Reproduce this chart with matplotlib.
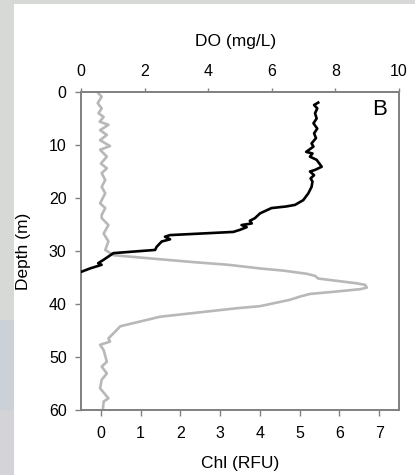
import matplotlib
matplotlib.use('Agg')
from matplotlib import pyplot as plt
from matplotlib.patches import Rectangle

plt.rcParams['font.family'] = ['Liberation Sans', 'DejaVu Sans']

# dissolved oxygen profile (black), DO in mg/L vs depth in m
do_depth = [2.0, 2.45, 3.1, 4.0, 5.0, 5.9, 6.9, 7.8, 8.7, 9.7, 10.3, 11.3, 11.6, 12.2,
            12.8, 14.1, 14.7, 15.0, 15.7, 16.3, 16.9, 17.9, 19.1, 20.4, 21.3, 21.6,
            21.9, 22.9, 23.8, 24.3, 24.8, 25.1, 25.5, 26.0, 26.4, 27.0, 27.3, 27.8,
            28.2, 29.2, 29.8, 30.4, 31.7, 32.3, 32.6, 33.3, 33.9]
do_vals = [7.46, 7.33, 7.43, 7.36, 7.41, 7.31, 7.43, 7.33, 7.39, 7.25, 7.31, 7.08, 7.28, 7.20,
           7.41, 7.57, 7.36, 7.20, 7.33, 7.22, 7.28, 7.25, 7.15, 6.99, 6.73, 6.45,
           5.99, 5.63, 5.47, 5.31, 5.37, 5.05, 5.21, 5.00, 4.79, 2.80, 2.64, 2.80,
           2.54, 2.38, 2.33, 1.02, 0.70, 0.54, 0.65, 0.28, 0.02]

# chlorophyll profile (grey), RFU vs depth in m
chl_depth = [0.25, 0.9, 2.1, 3.1, 4.0, 4.7, 5.6, 6.2, 7.2, 8.1, 9.1, 10.2, 10.9, 12.2,
             13.5, 14.4, 15.3, 16.6, 17.9, 19.1, 21.0, 21.9, 23.2, 23.8, 25.1, 26.7,
             28.2, 29.8, 30.8, 32.1, 32.6, 33.3, 33.7, 34.3, 34.7, 35.2, 36.1, 36.4,
             36.9, 37.2, 37.7, 38.1, 38.6, 39.2, 40.4, 40.8, 42.4, 44.2, 46.5, 47.1,
             47.7, 48.7, 50.9, 51.8, 53.1, 54.3, 55.9, 57.8, 58.4, 60.0]
chl_vals = [-0.06, 0.02, -0.08, 0.02, -0.06, 0.07, -0.03, 0.19, -0.02, 0.15, -0.02, 0.23,
            -0.02, 0.15, 0.00, 0.15, 0.02, 0.11, 0.02, 0.11, -0.02, 0.11, 0.02, 0.02,
            0.19, 0.07, 0.19, 0.11, 0.32, 2.33, 3.20, 4.01, 4.59, 5.18, 5.39, 5.47,
            6.44, 6.65, 6.69, 6.53, 5.85, 5.26, 5.01, 4.76, 4.01, 3.42, 1.49, 0.49,
            0.19, 0.23, -0.02, 0.07, 0.15, 0.02, 0.15, 0.02, -0.02, 0.19, 0.07, 0.05]

depth_ticks = [0, 10, 20, 30, 40, 50, 60]
chl_ticks = [0, 1, 2, 3, 4, 5, 6, 7]
do_ticks = [0, 2, 4, 6, 8, 10]

SPINE = '#808080'

fig = plt.figure(figsize=(4.15, 4.75), dpi=100, facecolor='#d7d9d7')
# slide-like frame
fig.patches.append(Rectangle((14 / 415, 0), 1, 471 / 475, transform=fig.transFigure,
                             facecolor='white', edgecolor='none', zorder=-10))
fig.patches.append(Rectangle((0, 65 / 475), 14 / 415, 90 / 475, transform=fig.transFigure,
                             facecolor='#ccd0d7', edgecolor='none', zorder=-10))
fig.patches.append(Rectangle((0, 0), 14 / 415, 65 / 475, transform=fig.transFigure,
                             facecolor='#d4d4d8', edgecolor='none', zorder=-10))

ax = fig.add_axes([81 / 415, 65 / 475, 318 / 415, 318 / 475])
ax.plot(chl_vals, chl_depth, color='#b8b8b8', lw=1.9, zorder=2)
ax.set_xlim(-0.5, 7.5)
ax.set_ylim(60, 0)
ax.set_xticks(chl_ticks)
ax.set_yticks(depth_ticks)
ax.set_xlabel('Chl (RFU)', fontsize=12.5, va='center')
ax.set_ylabel('Depth (m)', fontsize=12.5, va='center')
ax.xaxis.set_label_coords(0.5, -0.167)
ax.yaxis.set_label_coords(-0.182, 0.5)

ax2 = ax.twiny()
ax2.plot(do_vals, do_depth, color='black', lw=1.9, zorder=3)
ax2.set_xlim(0, 10)
ax2.set_xticks(do_ticks)
ax2.set_xlabel('DO (mg/L)', fontsize=12.5, va='center')
ax2.xaxis.set_label_coords(0.485, 1.16)
ax2.text(0.962, 0.978, 'B', transform=ax2.transAxes, ha='right', va='top', fontsize=16)

for a in (ax, ax2):
    for s in a.spines.values():
        s.set_color(SPINE)
        s.set_linewidth(1.2)
    a.tick_params(colors=SPINE, labelcolor='black', labelsize=11.5, direction='out',
                  length=4.3, width=1.0)
ax.tick_params(axis='y', pad=6)
ax.tick_params(axis='x', pad=7)
ax2.tick_params(axis='x', length=3, pad=6)

fig.savefig('out.png', dpi=100, facecolor=fig.get_facecolor())
